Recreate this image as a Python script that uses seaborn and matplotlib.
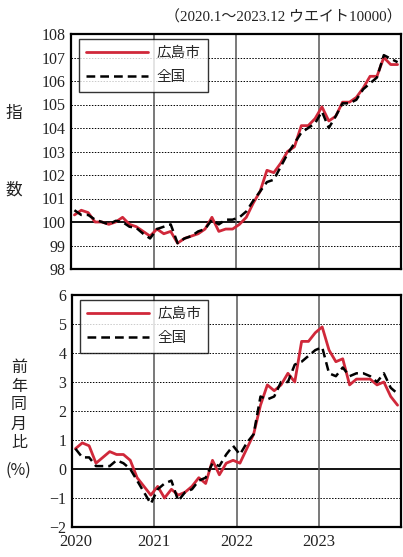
import numpy as np
import pandas as pd
import matplotlib
matplotlib.use("Agg")
import matplotlib.pyplot as plt
import seaborn as sns

# 2020.1 - 2023.12 monthly values
months = pd.period_range("2020-01", "2023-12", freq="M")
hiroshima_index = [100.3, 100.5, 100.4, 100.0, 100.0, 99.9, 100.0, 100.2, 99.9, 99.8, 99.6, 99.4,
                   99.7, 99.5, 99.6, 99.1, 99.3, 99.4, 99.5, 99.7, 100.2, 99.6, 99.7, 99.7,
                   99.9, 100.2, 100.8, 101.3, 102.2, 102.1, 102.5, 103.0, 103.2, 104.1, 104.1, 104.4,
                   104.9, 104.3, 104.5, 105.1, 105.1, 105.3, 105.7, 106.2, 106.2, 107.0, 106.7, 106.7]
japan_index = [100.5, 100.3, 100.3, 100.1, 100.0, 99.9, 100.05, 100.0, 99.8, 99.75, 99.5, 99.3,
               99.7, 99.8, 99.9, 99.1, 99.3, 99.4, 99.6, 99.7, 100.1, 99.9, 100.1, 100.1,
               100.2, 100.45, 100.9, 101.3, 101.7, 101.8, 102.35, 102.9, 103.35, 103.8, 104.0, 104.2,
               104.7, 104.0, 104.5, 105.05, 105.05, 105.2, 105.65, 105.9, 106.15, 107.1, 106.95, 106.8]
hiroshima_yoy = [0.7, 0.9, 0.8, 0.2, 0.4, 0.6, 0.5, 0.5, 0.3, -0.3, -0.6, -0.9,
                 -0.6, -1.0, -0.7, -0.9, -0.8, -0.6, -0.3, -0.5, 0.3, -0.2, 0.2, 0.3,
                 0.2, 0.7, 1.2, 2.2, 2.9, 2.7, 2.9, 3.3, 3.0, 4.4, 4.4, 4.7,
                 4.9, 4.1, 3.7, 3.8, 2.9, 3.1, 3.1, 3.1, 2.9, 3.0, 2.5, 2.2]
japan_yoy = [0.7, 0.4, 0.4, 0.1, 0.1, 0.1, 0.3, 0.2, 0.0, -0.4, -0.8, -1.2,
             -0.7, -0.5, -0.4, -1.1, -0.8, -0.7, -0.4, -0.3, 0.2, 0.1, 0.5, 0.8,
             0.5, 0.9, 1.2, 2.5, 2.4, 2.5, 3.0, 3.0, 3.6, 3.7, 3.9, 4.1,
             4.2, 3.3, 3.2, 3.5, 3.2, 3.3, 3.3, 3.2, 3.0, 3.3, 2.8, 2.6]
year_labels = ["2020", "2021", "2022", "2023"]
series_names = ["広島市", "全国"]

RED = "#d0283a"
FONTS = ["Liberation Serif", "Noto Sans CJK JP", "DejaVu Sans"]

sns.set_theme(style="white")
plt.rcParams["font.family"] = FONTS

x = np.arange(len(months)) + 0.5
df = pd.DataFrame({"x": x, "hi": hiroshima_index, "ji": japan_index,
                   "hy": hiroshima_yoy, "jy": japan_yoy})

fig = plt.figure(figsize=(4.03, 5.57), dpi=100)
ax1 = fig.add_axes([71 / 403, 1 - 269 / 557, 330 / 403, 235 / 557])
ax2 = fig.add_axes([72 / 403, 1 - 527 / 557, 329 / 403, 232 / 557])


def style_axis(ax, ymin, ymax, base):
    ax.set_xlim(0, 48)
    ax.set_ylim(ymin, ymax)
    for v in range(ymin + 1, ymax):
        if v != base:
            ax.axhline(v, color="black", lw=0.7, ls=(0, (1.5, 1.5)), zorder=1)
    ax.axhline(base, color="black", lw=1.3, zorder=1)
    for xv in [12, 24, 36]:
        ax.axvline(xv, color="#555555", lw=1.1, zorder=1)
    for s in ax.spines.values():
        s.set_color("black")
        s.set_linewidth(1.6)
    ax.set_yticks(range(ymin, ymax + 1))
    ax.tick_params(axis="both", length=0, labelsize=11.5, colors="#222222", pad=4)
    ax.set_xlabel("")
    ax.set_ylabel("")


sns.lineplot(data=df, x="x", y="hi", ax=ax1, color=RED, lw=2.0, label=series_names[0], zorder=3)
sns.lineplot(data=df, x="x", y="ji", ax=ax1, color="black", lw=1.8, ls=(0, (3.5, 2)),
             label=series_names[1], zorder=4)
style_axis(ax1, 98, 108, 100)
ax1.set_xticks([])

sns.lineplot(data=df, x="x", y="hy", ax=ax2, color=RED, lw=2.0, label=series_names[0], zorder=3)
sns.lineplot(data=df, x="x", y="jy", ax=ax2, color="black", lw=1.8, ls=(0, (3.5, 2)),
             label=series_names[1], zorder=4)
style_axis(ax2, -2, 6, 0)
ax2.set_yticklabels([str(v).replace("-", "−") for v in range(-2, 7)])
ax2.set_xticks([0.6, 12, 24, 36])
ax2.set_xticklabels(year_labels)
ax2.tick_params(axis="x", labelsize=12, pad=5)

for ax in (ax1, ax2):
    leg = ax.legend(loc="upper left", bbox_to_anchor=(0.02, 0.985), frameon=True, fancybox=False,
                    fontsize=10.5, handlelength=4.2, borderpad=0.5, labelspacing=0.7,
                    handletextpad=0.6, borderaxespad=0.1)
    leg.get_frame().set_edgecolor("black")
    leg.get_frame().set_linewidth(1.0)
    for t in leg.get_texts():
        t.set_family(["Noto Sans CJK JP", "DejaVu Sans"])

# titles and axis captions
fig.text(402 / 403, 1 - 17 / 557, "（2020.1～2023.12 ウエイト10000）", ha="right", va="center",
         fontsize=10.8, color="#222222", family=FONTS)
fig.text(14 / 403, 1 - 113 / 557, "指", ha="center", va="center", fontsize=12,
         family=["Noto Sans CJK JP"], color="#222222")
fig.text(14 / 403, 1 - 190 / 557, "数", ha="center", va="center", fontsize=12,
         family=["Noto Sans CJK JP"], color="#222222")
for i, ch in enumerate("前年同月比"):
    fig.text(19 / 403, 1 - (367 + i * 19) / 557, ch, ha="center", va="center", fontsize=11.5,
             family=["Noto Sans CJK JP"], color="#222222")
fig.text(18 / 403, 1 - 470 / 557, "(%)", ha="center", va="center", fontsize=11.5,
         family=["Noto Sans CJK JP", "DejaVu Sans"], color="#222222")

fig.savefig("out.png", dpi=100)
